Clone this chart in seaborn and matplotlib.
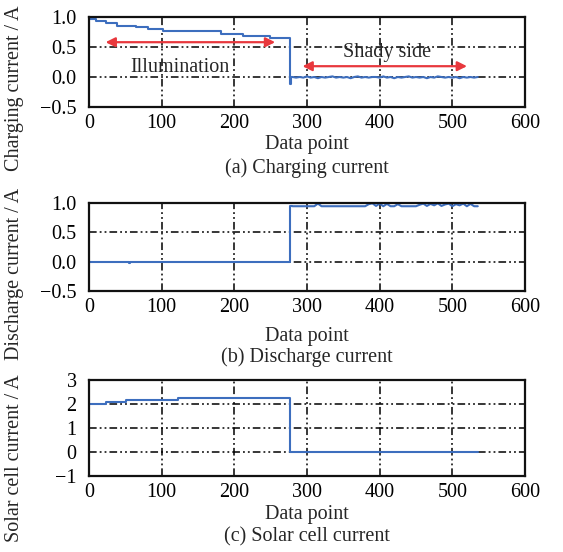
import numpy as np
import pandas as pd
import matplotlib
matplotlib.use("Agg")
import matplotlib.pyplot as plt
import seaborn as sns

# ---------------- data ----------------
# (a) charging current: illumination steps (steps-post) then shady-side noise
charge_step_x = [0, 10, 24, 38, 65, 81, 102, 182, 212, 249, 276, 278]
charge_step_y = [0.97, 0.94, 0.90, 0.855, 0.83, 0.80, 0.765, 0.72, 0.685, 0.65, -0.12, 0.0]
shady_x = list(range(280, 536, 5))
charge_shady_y = [0.00, -0.01, 0.00, -0.01, 0.01, -0.01, 0.00, -0.02, 0.00, -0.01,
                  0.00, 0.01, -0.01, 0.00, -0.01, 0.00, -0.02, 0.00, 0.01, -0.01,
                  0.00, -0.01, 0.00, 0.00, -0.01, 0.01, -0.01, 0.00, -0.02, 0.00,
                  -0.01, 0.00, 0.01, -0.01, 0.00, -0.01, 0.00, -0.02, 0.00, -0.01,
                  0.01, 0.00, -0.01, 0.00, -0.01, 0.00, -0.02, 0.00, -0.01, 0.00,
                  -0.01, 0.00]

# (b) discharge current
dis_step_x = [0, 55, 57, 277, 280]
dis_step_y = [0.0, -0.02, 0.0, 0.945, 0.945]
dis_shady_y = [0.945, 0.945, 0.945, 0.945, 0.945, 0.945, 0.945, 0.99, 0.945, 0.945,
               0.945, 0.945, 0.945, 0.945, 0.945, 0.945, 0.945, 0.945, 0.945, 0.945,
               0.945, 0.98, 0.995, 0.95, 0.99, 0.945, 0.985, 0.945, 0.945, 0.98,
               0.945, 0.945, 0.945, 0.945, 0.945, 0.97, 0.99, 0.95, 0.985, 0.96,
               0.995, 0.95, 0.975, 0.99, 0.945, 0.98, 0.96, 0.99, 0.945, 0.985,
               0.945, 0.945]

# (c) solar cell current
solar_x = [0, 24, 51, 122, 277, 535]
solar_y = [2.0, 2.08, 2.17, 2.26, 0.0, 0.0]

xticks = [0, 100, 200, 300, 400, 500, 600]
yticks_ab = [-0.5, 0.0, 0.5, 1.0]
yticklabels_ab = ["\u22120.5", "0.0", "0.5", "1.0"]
yticks_c = [-1, 0, 1, 2, 3]
yticklabels_c = ["\u22121", "0", "1", "2", "3"]

ylabels = ["Charging current / A", "Discharge current / A", "Solar cell current / A"]
captions = ["(a) Charging current", "(b) Discharge current", "(c) Solar cell current"]
xlabel = "Data point"

# ---------------- style ----------------
sns.set_theme(style="white")
plt.rcParams["font.family"] = ["Liberation Serif", "DejaVu Serif"]
plt.rcParams["axes.unicode_minus"] = True

W, H = 563, 552
fig = plt.figure(figsize=(W / 100, H / 100), dpi=100)

def px_rect(l, t, r, b):
    return [l / W, 1 - b / H, (r - l) / W, (b - t) / H]

line_c = "#3d6ebe"
red = "#e8383d"
fs = 14.5
grid_ls = (0, (5, 2, 1.2, 2, 1.2, 2))

axes_px = [(89, 17, 525, 107), (89, 203, 525, 291), (89, 380, 525, 476)]
tick_y = [122, 311, 495]
xlab_y = [145, 336, 514]
cap_y = [168, 357, 537]
ylab_y = [88, 274, 458]

axs = [fig.add_axes(px_rect(*p)) for p in axes_px]

# (a)
ax = axs[0]
sns.lineplot(x=charge_step_x, y=charge_step_y, ax=ax, color=line_c, lw=1.5,
             drawstyle="steps-post", estimator=None, sort=False)
sns.lineplot(x=[charge_step_x[-1]] + shady_x, y=[charge_step_y[-1]] + charge_shady_y,
             ax=ax, color=line_c, lw=1.5, estimator=None, sort=False)
ax.annotate("", xy=(19, 0.58), xytext=(260, 0.58),
            arrowprops=dict(arrowstyle="<|-|>", color=red, lw=1.6, mutation_scale=14))
ax.annotate("", xy=(290, 0.18), xytext=(524, 0.18),
            arrowprops=dict(arrowstyle="<|-|>", color=red, lw=1.6, mutation_scale=14))
ax.text(125, 0.15, "Illumination", fontsize=fs, ha="center", va="center")
ax.text(410, 0.40, "Shady side", fontsize=fs, ha="center", va="center")

# (b)
ax = axs[1]
sns.lineplot(x=dis_step_x, y=dis_step_y, ax=ax, color=line_c, lw=1.5,
             drawstyle="steps-post", estimator=None, sort=False)
sns.lineplot(x=shady_x, y=dis_shady_y, ax=ax, color=line_c, lw=1.5,
             estimator=None, sort=False)

# (c)
ax = axs[2]
sns.lineplot(x=solar_x, y=solar_y, ax=ax, color=line_c, lw=1.5,
             drawstyle="steps-post", estimator=None, sort=False)

for i, ax in enumerate(axs):
    ax.set_xlim(0, 600)
    ax.set_xticks(xticks)
    ax.set_xticklabels([str(t) for t in xticks])
    if i < 2:
        ax.set_ylim(-0.5, 1.0)
        ax.set_yticks(yticks_ab)
        ax.set_yticklabels(yticklabels_ab)
    else:
        ax.set_ylim(-1, 3)
        ax.set_yticks(yticks_c)
        ax.set_yticklabels(yticklabels_c)
    ax.set_xlabel("")
    ax.set_ylabel("")
    ax.grid(True, color="black", linestyle=grid_ls, linewidth=1.1)
    ax.set_axisbelow(True)
    ax.tick_params(length=0, labelsize=fs, colors="black")
    ax.tick_params(axis="x", pad=5)
    ax.tick_params(axis="y", pad=9)
    for s in ax.spines.values():
        s.set_color("#111111")
        s.set_linewidth(1.6)
    fig.text(307 / W, 1 - xlab_y[i] / H, xlabel, fontsize=fs, ha="center", va="center")
    fig.text(307 / W, 1 - cap_y[i] / H, captions[i], fontsize=fs, ha="center", va="center")
    fig.text(15 / W, 1 - ylab_y[i] / H, ylabels[i], fontsize=fs, ha="center", va="center",
             rotation=90)

fig.savefig("out.png", dpi=100, facecolor="white")
